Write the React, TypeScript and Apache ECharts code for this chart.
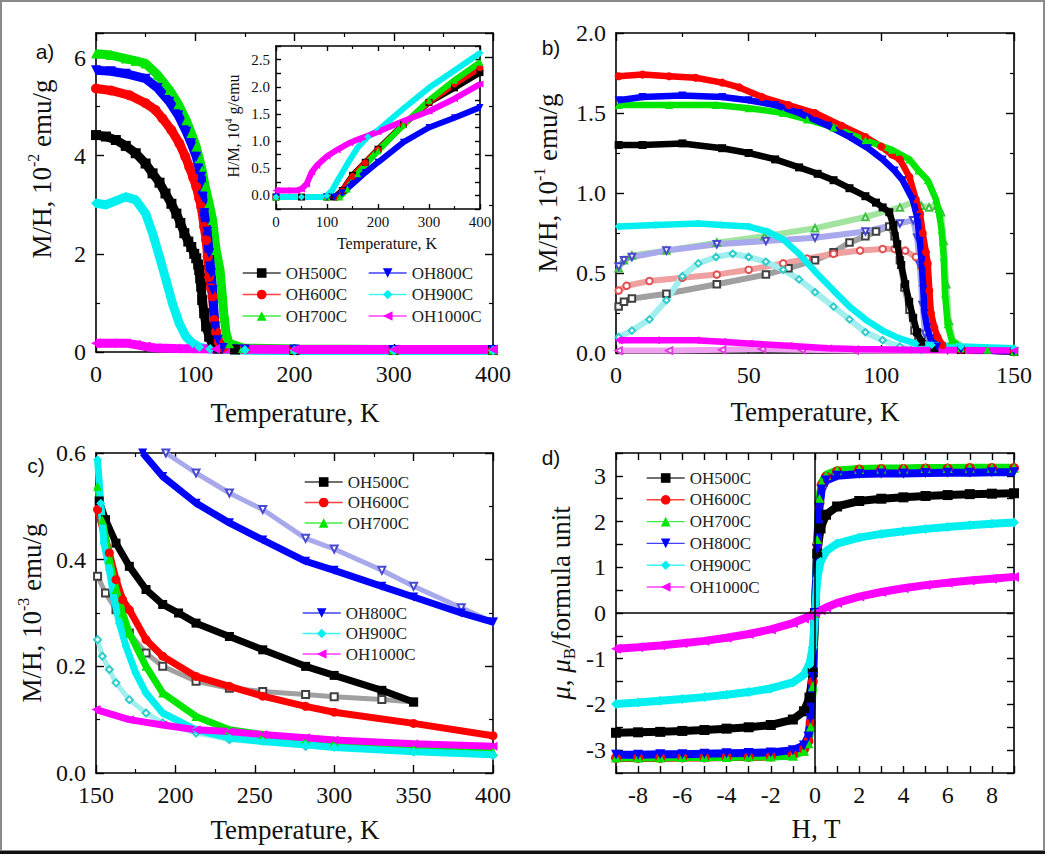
import React, { useEffect, useRef } from 'react';
import * as echarts from 'echarts';

const SERIF = "'Liberation Serif', 'Times New Roman', Times, serif";
const SANS = "'Liberation Sans', Arial, sans-serif";

const SAMPLES = ['OH500C', 'OH600C', 'OH700C', 'OH800C', 'OH900C', 'OH1000C'];
const COLORS = ['#000000', '#ff0000', '#00e600', '#0000ff', '#00f0f0', '#ff00ff'];
const OPEN_COLORS = ['#404040', '#e05050', '#40c040', '#4848d0', '#30cccc', '#e040e0'];
const OPEN_BAND = ['#a0a0a0', '#f0a0a0', '#a0e4a0', '#a8a8ec', '#a0eeee', '#f0a0f0'];
const SYMBOLS = ['rect', 'circle', 'triangle', 'triangle', 'diamond', 'triangle'];
const OPEN_SYMBOLS = ['emptyRect', 'emptyCircle', 'emptyTriangle', 'emptyTriangle', 'emptyDiamond', 'emptyTriangle'];
const ROTATE = [0, 0, 0, 180, 0, 90];

// ---- panel a: M/H (10^-2 emu/g) vs T (K)
const a500 = [[0, 4.42], [10, 4.39], [20, 4.32], [30, 4.2], [40, 4.05], [50, 3.84], [57, 3.64], [64, 3.45], [70, 3.23], [76, 3.02], [81, 2.82], [85, 2.63], [89, 2.42], [93, 2.25], [96, 2.14], [99, 2.0], [101, 1.91], [103, 1.78], [104, 1.67], [105, 1.5], [106, 1.33], [107, 1.06], [109, 0.79], [111, 0.52], [114, 0.31], [117.5, 0.14], [123, 0.07], [140, 0.05], [200, 0.04], [300, 0.04], [400, 0.04]];
const a600 = [[0, 5.37], [15, 5.33], [34, 5.23], [50, 5.07], [60, 4.93], [67, 4.76], [76, 4.52], [84, 4.25], [90, 3.98], [94, 3.77], [98, 3.55], [101, 3.37], [104, 3.13], [106, 2.96], [109, 2.55], [111, 2.28], [112.5, 1.94], [114, 1.53], [116, 1.3], [117.5, 1.13], [119, 0.65], [121, 0.41], [123.6, 0.21], [128, 0.09], [150, 0.06], [200, 0.05], [300, 0.04], [400, 0.04]];
const a700 = [[0, 6.08], [15, 6.05], [30, 5.98], [40, 5.93], [50, 5.88], [62, 5.65], [74, 5.34], [83, 5.05], [91, 4.72], [96, 4.46], [101, 4.18], [104, 3.95], [107, 3.7], [110, 3.37], [114, 3.03], [117.5, 2.69], [121, 2.08], [125, 1.67], [127, 1.2], [128.7, 0.79], [131, 0.39], [134, 0.18], [148, 0.08], [200, 0.06], [300, 0.05], [400, 0.05]];
const a800 = [[0, 5.74], [15, 5.72], [30, 5.67], [50, 5.57], [62, 5.38], [74, 5.1], [83, 4.82], [91, 4.49], [96, 4.25], [101, 3.98], [106, 3.57], [107.5, 3.16], [109, 2.83], [112, 2.45], [114, 2.01], [116, 1.6], [117.5, 1.26], [118.5, 0.92], [120, 0.52], [122.6, 0.24], [127.6, 0.08], [150, 0.05], [200, 0.05], [300, 0.04], [400, 0.04]];
const a900 = [[0, 3.03], [10, 3.0], [20, 3.08], [30, 3.16], [40, 3.1], [50, 2.82], [57, 2.42], [64, 1.94], [70.5, 1.47], [77, 0.99], [84, 0.58], [90.7, 0.31], [97.4, 0.18], [104, 0.1], [115, 0.06], [150, 0.04], [200, 0.03], [300, 0.03], [400, 0.03]];
const a1000 = [[0, 0.18], [15, 0.18], [30, 0.18], [40, 0.15], [50, 0.11], [60, 0.08], [80, 0.07], [120, 0.06], [200, 0.05], [300, 0.05], [400, 0.05]];

// ---- inset: H/M (10^4 g/emu) vs T (K)
const i500 = [[0, -0.03], [50, -0.03], [100, -0.03], [115, -0.03], [130, 0.09], [150, 0.37], [175, 0.61], [200, 0.85], [250, 1.31], [300, 1.71], [350, 1.98], [400, 2.26]];
const i600 = [[0, -0.03], [100, -0.03], [118, -0.03], [130, 0.08], [150, 0.35], [175, 0.6], [200, 0.84], [250, 1.3], [300, 1.72], [350, 2.05], [400, 2.35]];
const i700 = [[0, -0.03], [100, -0.03], [125, -0.03], [140, 0.12], [160, 0.4], [200, 0.82], [250, 1.3], [300, 1.75], [350, 2.12], [400, 2.45]];
const i800 = [[0, -0.03], [100, -0.03], [115, -0.03], [130, 0.05], [150, 0.21], [175, 0.42], [200, 0.61], [250, 0.98], [300, 1.25], [350, 1.43], [400, 1.62]];
const i900 = [[0, -0.03], [50, -0.03], [90, -0.03], [100, 0.0], [110, 0.09], [120, 0.26], [140, 0.58], [160, 0.88], [180, 1.08], [200, 1.2], [250, 1.6], [300, 1.98], [350, 2.3], [400, 2.62]];
const i1000 = [[0, 0.09], [20, 0.09], [40, 0.09], [50, 0.12], [60, 0.21], [70, 0.43], [80, 0.55], [100, 0.72], [120, 0.84], [145, 0.97], [160, 1.03], [200, 1.17], [250, 1.37], [300, 1.55], [350, 1.78], [400, 2.05]];

// ---- panel b: M/H (10^-1 emu/g) vs T (K), field-cooled (filled) and zero-field-cooled (open)
const bFC500 = [[1, 1.3], [10, 1.3], [25, 1.31], [40, 1.28], [50, 1.25], [60, 1.21], [69, 1.16], [76, 1.12], [82, 1.08], [88, 1.03], [94, 0.98], [98, 0.94], [100.5, 0.91], [103, 0.88], [104.5, 0.8], [106, 0.68], [107.5, 0.55], [109, 0.43], [110.5, 0.32], [112, 0.22], [113.5, 0.13], [115, 0.07], [120, 0.03], [130, 0.02], [150, 0.01]];
const bFC600 = [[1, 1.73], [10, 1.74], [20, 1.73], [30, 1.72], [40, 1.69], [46.5, 1.66], [55, 1.6], [65, 1.55], [75, 1.5], [85, 1.42], [94, 1.35], [100, 1.29], [104, 1.24], [107, 1.21], [110.6, 1.1], [113, 0.96], [114.6, 0.87], [115.6, 0.75], [116.8, 0.63], [117.5, 0.56], [118.1, 0.39], [118.7, 0.25], [120, 0.16], [121.2, 0.1], [123, 0.05], [130, 0.02], [150, 0.01]];
const bFC700 = [[1, 1.55], [20, 1.55], [37.7, 1.55], [50, 1.53], [63, 1.5], [72, 1.46], [82, 1.41], [94, 1.33], [104, 1.27], [110.6, 1.21], [114, 1.14], [117.5, 1.08], [120.6, 0.96], [121.5, 0.9], [122.7, 0.77], [123.5, 0.6], [124, 0.37], [125, 0.18], [126.5, 0.08], [130, 0.03], [140, 0.02], [150, 0.01]];
const bFC800 = [[1, 1.58], [10, 1.6], [25, 1.61], [40, 1.6], [50, 1.58], [60, 1.55], [69, 1.5], [80, 1.42], [88, 1.35], [95, 1.28], [100.5, 1.21], [105, 1.14], [108, 1.08], [111.8, 0.96], [113.5, 0.85], [114.5, 0.7], [115.2, 0.58], [115.8, 0.4], [116.3, 0.25], [117.3, 0.16], [118.5, 0.09], [121, 0.04], [130, 0.02], [150, 0.01]];
const bFC900 = [[1, 0.79], [15, 0.8], [31, 0.81], [40, 0.8], [50, 0.79], [57, 0.76], [63, 0.71], [69, 0.62], [75, 0.51], [82, 0.39], [88, 0.29], [94, 0.21], [100.5, 0.14], [107, 0.09], [113, 0.06], [119, 0.05], [130, 0.04], [150, 0.03]];
const bFC1000 = [[1, 0.08], [15, 0.08], [30, 0.08], [40, 0.07], [50, 0.06], [65, 0.045], [80, 0.03], [90, 0.025], [110, 0.02], [150, 0.015]];
const bZFC500 = [[1, 0.29], [3, 0.32], [6, 0.34], [19, 0.37], [38, 0.43], [56.5, 0.49], [65, 0.53], [75, 0.58], [82, 0.63], [88, 0.69], [94, 0.73], [98, 0.76], [103, 0.79], [105, 0.73], [107, 0.58], [108.7, 0.41], [110.6, 0.27], [112.5, 0.14], [114, 0.08], [118, 0.04], [130, 0.02], [150, 0.01]];
const bZFC600 = [[1, 0.39], [4, 0.42], [12.6, 0.45], [25, 0.47], [38, 0.49], [50, 0.52], [63, 0.56], [72, 0.59], [82, 0.62], [92, 0.64], [100.5, 0.65], [105, 0.65], [109, 0.64], [113, 0.6], [115, 0.54], [116.5, 0.41], [117.5, 0.27], [119, 0.12], [121, 0.06], [125, 0.03], [150, 0.01]];
const bZFC700 = [[1, 0.53], [3, 0.58], [6, 0.61], [19, 0.64], [38, 0.69], [56, 0.73], [75, 0.78], [94, 0.85], [107, 0.91], [113, 0.95], [115, 0.92], [118, 0.91], [121, 0.92], [122.5, 0.88], [123.5, 0.7], [124.5, 0.43], [125.5, 0.2], [127, 0.08], [132, 0.03], [150, 0.01]];
const bZFC800 = [[1, 0.54], [3, 0.58], [6, 0.6], [19, 0.64], [38, 0.68], [56.5, 0.7], [75, 0.72], [94, 0.76], [107, 0.81], [112, 0.83], [113.5, 0.72], [114.5, 0.55], [115.5, 0.3], [116.5, 0.12], [118, 0.05], [125, 0.02], [150, 0.01]];
const bZFC900 = [[1, 0.1], [6, 0.14], [12.6, 0.21], [19, 0.33], [25, 0.48], [31, 0.56], [37.7, 0.6], [44, 0.62], [50, 0.6], [56.5, 0.57], [63, 0.52], [69, 0.46], [75, 0.38], [82, 0.29], [88, 0.21], [94, 0.13], [100.5, 0.08], [107, 0.04], [115, 0.02], [150, 0.01]];
const bZFC1000 = [[1, 0.015], [20, 0.015], [40, 0.02], [55, 0.025], [70, 0.02], [90, 0.015], [150, 0.01]];

// ---- panel c: M/H (10^-3 emu/g) vs T (K)
const c500 = [[152, 0.51], [156, 0.475], [162.6, 0.431], [171, 0.3875], [181.5, 0.344], [192, 0.316], [202, 0.3], [213, 0.281], [234, 0.256], [255, 0.231], [282, 0.2], [300, 0.183], [330, 0.155], [350, 0.133]];
const c600 = [[151, 0.494], [158.4, 0.4125], [162.6, 0.3625], [166.8, 0.325], [171, 0.306], [181.5, 0.25], [192, 0.219], [213, 0.181], [234, 0.1625], [255, 0.144], [282, 0.125], [300, 0.114], [350, 0.093], [400, 0.07]];
const c700 = [[151, 0.5375], [154, 0.475], [158.4, 0.4], [162.6, 0.344], [166.8, 0.3], [171, 0.2625], [181.5, 0.2], [192, 0.15], [213, 0.106], [234, 0.081], [255, 0.072], [282, 0.0625], [300, 0.057], [350, 0.046], [400, 0.04]];
const c800 = [[179.4, 0.6], [192, 0.556], [213, 0.506], [234, 0.469], [255, 0.437], [282, 0.397], [300, 0.38], [330, 0.35], [350, 0.33], [380, 0.3], [400, 0.283]];
const c900 = [[151, 0.5875], [153, 0.506], [155, 0.431], [158.4, 0.381], [161.5, 0.325], [164.7, 0.281], [168.9, 0.2375], [175, 0.1875], [181.5, 0.15], [192, 0.1125], [213, 0.081], [234, 0.066], [255, 0.059], [282, 0.053], [300, 0.048], [350, 0.04], [400, 0.034]];
const c1000 = [[150, 0.119], [171, 0.1], [192, 0.09], [213, 0.081], [234, 0.078], [255, 0.072], [282, 0.066], [300, 0.062], [350, 0.055], [400, 0.05]];
const c500open = [[151, 0.369], [156, 0.3375], [162.6, 0.306], [171, 0.2625], [181.5, 0.225], [192, 0.2], [213, 0.172], [234, 0.159], [255, 0.153], [282, 0.147], [300, 0.143], [330, 0.138], [350, 0.133]];
const c800open = [[194, 0.6], [213, 0.5625], [234, 0.525], [255, 0.494], [282, 0.44], [300, 0.42], [330, 0.38], [350, 0.35], [380, 0.31], [400, 0.283]];
const c900open = [[151, 0.25], [154, 0.219], [158.4, 0.194], [162.6, 0.169], [171, 0.1375], [181.5, 0.1125], [192, 0.094], [213, 0.075], [234, 0.0625], [282, 0.05], [350, 0.04], [400, 0.033]];

// ---- panel d: moment (mu_B / formula unit) vs H (T)
const d500 = [[-9, -2.62], [-8, -2.61], [-7, -2.6], [-6, -2.58], [-5, -2.56], [-4, -2.53], [-3, -2.5], [-2, -2.45], [-1, -2.33], [-0.5, -2.15], [-0.25, -1.85], [-0.1, -1.3], [0, 0], [0.1, 1.3], [0.25, 1.85], [0.5, 2.15], [1, 2.33], [2, 2.45], [3, 2.5], [4, 2.53], [5, 2.56], [6, 2.58], [7, 2.6], [8, 2.61], [9, 2.62]];
const d600 = [[-9, -3.17], [-8, -3.17], [-7, -3.17], [-6, -3.16], [-5, -3.16], [-4, -3.15], [-3, -3.15], [-2, -3.14], [-1, -3.1], [-0.5, -2.98], [-0.3, -2.8], [-0.2, -2.4], [-0.1, -1.5], [0, 0], [0.1, 1.5], [0.2, 2.4], [0.3, 2.8], [0.5, 2.98], [1, 3.1], [2, 3.14], [3, 3.15], [4, 3.15], [5, 3.16], [6, 3.16], [7, 3.17], [8, 3.17], [9, 3.17]];
const d700 = [[-9, -3.16], [-8, -3.16], [-7, -3.16], [-6, -3.15], [-5, -3.15], [-4, -3.15], [-3, -3.14], [-2, -3.14], [-1, -3.12], [-0.5, -3.02], [-0.3, -2.85], [-0.2, -2.5], [-0.1, -1.6], [0, 0], [0.1, 1.6], [0.2, 2.5], [0.3, 2.85], [0.5, 3.02], [1, 3.12], [2, 3.15], [3, 3.16], [4, 3.16], [5, 3.17], [6, 3.17], [7, 3.18], [8, 3.18], [9, 3.18]];
const d800 = [[-9, -3.1], [-8, -3.1], [-7, -3.09], [-6, -3.09], [-5, -3.08], [-4, -3.07], [-3, -3.06], [-2, -3.05], [-1, -3.0], [-0.5, -2.9], [-0.3, -2.7], [-0.2, -2.3], [-0.1, -1.4], [0, 0], [0.1, 1.4], [0.2, 2.3], [0.3, 2.7], [0.5, 2.9], [1, 3.0], [2, 3.04], [3, 3.05], [4, 3.05], [5, 3.06], [6, 3.07], [7, 3.07], [8, 3.08], [9, 3.08]];
const d900 = [[-9, -1.99], [-8, -1.96], [-7, -1.92], [-6, -1.88], [-5, -1.84], [-4, -1.79], [-3, -1.73], [-2, -1.65], [-1, -1.52], [-0.5, -1.35], [-0.25, -1.12], [-0.1, -0.75], [0, 0], [0.1, 0.75], [0.25, 1.12], [0.5, 1.35], [1, 1.52], [2, 1.65], [3, 1.73], [4, 1.79], [5, 1.84], [6, 1.88], [7, 1.92], [8, 1.95], [9, 1.98]];
const d1000 = [[-9, -0.78], [-8, -0.75], [-7, -0.71], [-6, -0.66], [-5, -0.61], [-4, -0.54], [-3, -0.46], [-2, -0.36], [-1, -0.22], [-0.5, -0.12], [-0.25, -0.06], [0, 0], [0.25, 0.06], [0.5, 0.12], [1, 0.22], [2, 0.36], [3, 0.46], [4, 0.54], [5, 0.61], [6, 0.66], [7, 0.71], [8, 0.75], [9, 0.79]];

// axis ranges
const A_X = { min: 0, max: 400, interval: 100 };
const A_Y = { min: 0, max: 6.5, interval: 2 };
const IN_X = { min: 0, max: 400, interval: 100 };
const IN_Y = { min: -0.25, max: 2.75, interval: 0.25 };
const B_X = { min: 0, max: 150, interval: 50 };
const B_Y = { min: 0, max: 2, interval: 0.5 };
const C_X = { min: 150, max: 400, interval: 50 };
const C_Y = { min: 0, max: 0.6, interval: 0.2 };
const D_X = { min: -9, max: 9, interval: 1 };
const D_Y = { min: -3.5, max: 3.5, interval: 0.5 };

type Rng = { min: number; max: number; interval: number };
type AxOpt = { minor: boolean; fontSize: number; margin: number; tick: number; fmt?: (v: number) => string; hideMax?: boolean };

function axisPair(dim: 'x' | 'y', grid: number, r: Rng, o: AxOpt) {
  const make = (pos: string, label: boolean) => {
    const axisLabel: any = { show: label, fontFamily: SERIF, fontSize: o.fontSize, color: '#111', margin: o.margin };
    if (o.fmt) axisLabel.formatter = o.fmt;
    if (o.hideMax) axisLabel.showMaxLabel = false;
    return {
      type: 'value', gridIndex: grid, position: pos, min: r.min, max: r.max, interval: r.interval,
      axisLine: { show: true, onZero: false, lineStyle: { color: '#000', width: 1.6 } },
      axisTick: { show: true, inside: true, length: o.tick, lineStyle: { color: '#000', width: 1.4 } },
      minorTick: { show: o.minor, splitNumber: 2, length: Math.round(o.tick * 0.55), lineStyle: { color: '#000', width: 1.2 } },
      splitLine: { show: false }, minorSplitLine: { show: false },
      axisLabel,
    };
  };
  return dim === 'x' ? [make('bottom', true), make('top', false)] : [make('left', true), make('right', false)];
}

const fix1 = (v: number) => v.toFixed(1);
const halfOnly = (v: number) => (Math.abs(v * 2 - Math.round(v * 2)) < 1e-6 && v > -0.01 ? (Math.round(v * 2) / 2).toFixed(1) : '');
const evenOnly = (v: number) => (Math.round(v) % 2 === 0 ? String(Math.round(v)) : '');
const intOnly = (v: number) => (Math.abs(v - Math.round(v)) < 1e-6 ? String(Math.round(v)) : '');

function filled(i: number, data: number[][], g: number, size: number, width: number) {
  return {
    type: 'line', name: SAMPLES[i], data, xAxisIndex: 2 * g, yAxisIndex: 2 * g,
    symbol: SYMBOLS[i], symbolRotate: ROTATE[i], symbolSize: size, showAllSymbol: true,
    itemStyle: { color: COLORS[i] }, lineStyle: { color: COLORS[i], width },
    silent: true, z: 3,
  };
}
function open(i: number, data: number[][], g: number, size: number, width: number) {
  return {
    type: 'line', name: SAMPLES[i] + ' ZFC', data, xAxisIndex: 2 * g, yAxisIndex: 2 * g,
    symbol: OPEN_SYMBOLS[i], symbolRotate: ROTATE[i], symbolSize: size, showAllSymbol: true,
    itemStyle: { color: OPEN_COLORS[i], borderWidth: 1.2 }, lineStyle: { color: OPEN_BAND[i], width },
    silent: true, z: 2,
  };
}

const LEGEND_RICH = { t: { fontFamily: SERIF, fontSize: 17, color: '#222', fill: '#222', lineHeight: 18 } };
function legend(names: string[], left: number, top: number, gap: number) {
  return {
    show: true, orient: 'vertical', left, top, padding: 0, itemGap: gap, itemWidth: 38, itemHeight: 12,
    selectedMode: false,
    data: names,
    formatter: '{t|{name}}',
    lineStyle: { width: 1.4, opacity: 0.75 },
    textStyle: { fontFamily: SERIF, fontSize: 17, color: '#222', lineHeight: 18, rich: LEGEND_RICH },
  };
}

function txt(text: string, x: number, y: number, size: number, rot = 0, family = SERIF) {
  return {
    type: 'text', x, y, rotation: rot, z: 100,
    style: { text, fontSize: size, fontFamily: family, fill: '#111', align: 'center', verticalAlign: 'middle' },
  };
}
function richTxt(text: string, x: number, y: number, size: number, small: number, rot: number) {
  return {
    type: 'text', x, y, rotation: rot, z: 100,
    style: {
      text, align: 'center', verticalAlign: 'middle', fill: '#111',
      rich: {
        m: { fontSize: size, fontFamily: SERIF, lineHeight: Math.round(size * 1.26), fill: '#111', verticalAlign: 'middle' },
        i: { fontSize: size, fontFamily: SERIF, fontStyle: 'italic', lineHeight: Math.round(size * 1.26), fill: '#111', verticalAlign: 'middle' },
        s: { fontSize: small, fontFamily: SERIF, fill: '#111', verticalAlign: 'top' },
        b: { fontSize: small, fontFamily: SERIF, fill: '#111', verticalAlign: 'bottom' },
      },
    },
  };
}

function buildOption() {
  const main = { minor: true, fontSize: 24, margin: 10, tick: 8 };
  const xAxis = [
    ...axisPair('x', 0, A_X, main),
    ...axisPair('x', 1, IN_X, { minor: true, fontSize: 15, margin: 5, tick: 5 }),
    ...axisPair('x', 2, B_X, main),
    ...axisPair('x', 3, C_X, main),
    ...axisPair('x', 4, D_X, { minor: false, fontSize: 24, margin: 10, tick: 7, fmt: evenOnly }),
  ];
  const yAxis = [
    ...axisPair('y', 0, A_Y, { ...main, hideMax: true }),
    ...axisPair('y', 1, IN_Y, { minor: false, fontSize: 15, margin: 6, tick: 5, fmt: halfOnly }),
    ...axisPair('y', 2, B_Y, { ...main, fmt: fix1 }),
    ...axisPair('y', 3, C_Y, { ...main, fmt: fix1 }),
    ...axisPair('y', 4, D_Y, { minor: false, fontSize: 24, margin: 10, tick: 7, fmt: intOnly }),
  ];

  const aData = [a500, a600, a700, a800, a900, a1000];
  const iData = [i500, i600, i700, i800, i900, i1000];
  const bFC = [bFC500, bFC600, bFC700, bFC800, bFC900, bFC1000];
  const bZFC = [bZFC500, bZFC600, bZFC700, bZFC800, bZFC900, bZFC1000];
  const cData = [c500, c600, c700, c800, c900, c1000];
  const dData = [d500, d600, d700, d800, d900, d1000];

  const series: any[] = [];
  aData.forEach((d, i) => series.push(filled(i, d, 0, 10, 9)));
  iData.forEach((d, i) => series.push(filled(i, d, 1, 7, 6)));
  bZFC.forEach((d, i) => series.push(open(i, d, 2, 6.5, 6)));
  bFC.forEach((d, i) => series.push(filled(i, d, 2, 8, 6.5)));
  series.push(open(0, c500open, 3, 7, 5));
  series.push(open(3, c800open, 3, 7, 5));
  series.push(open(4, c900open, 3, 7, 5));
  cData.forEach((d, i) => series.push(filled(i, d, 3, 9, 7)));
  series.push({
    type: 'line', name: 'zero', data: [[0, 0]], xAxisIndex: 8, yAxisIndex: 8, symbol: 'none',
    lineStyle: { width: 0 }, silent: true, z: 1,
    markLine: {
      silent: true, symbol: ['none', 'none'], label: { show: false },
      lineStyle: { color: '#000', width: 1.5, type: 'solid' },
      data: [{ xAxis: 0 }, { yAxis: 0 }],
    },
  });
  dData.forEach((d, i) => series.push(filled(i, d, 4, 10, 8)));

  const graphic = [
    { type: 'rect', z: 0, shape: { x: 1, y: 1, width: 1043, height: 850 }, style: { fill: 'none', stroke: '#8a8a8a', lineWidth: 2 } },
    { type: 'line', z: 0, shape: { x1: 0, y1: 852.5, x2: 1045, y2: 852.5 }, style: { stroke: '#111', lineWidth: 3 } },
    txt('a)', 45, 51, 21, 0, SANS),
    txt('b)', 551, 47, 21, 0, SANS),
    txt('c)', 36, 465, 21, 0, SANS),
    txt('d)', 551, 457, 21, 0, SANS),
    txt('Temperature, K', 295, 413, 27),
    txt('Temperature, K', 815, 412, 27),
    txt('Temperature, K', 295, 830, 27),
    txt('H, T', 816, 829, 27),
    txt('Temperature, K', 387, 243, 16),
    richTxt('{m|M/H, 10}{s|-2}{m| emu/g}', 42, 169, 27, 16, Math.PI / 2),
    richTxt('{m|M/H, 10}{s|-1}{m| emu/g}', 548, 183, 27, 16, Math.PI / 2),
    richTxt('{m|M/H, 10}{s|-3}{m| emu/g}', 32, 613, 27, 16, Math.PI / 2),
    richTxt('{i|μ}{m|, }{i|μ}{b|B}{m|/formula unit}', 561, 603, 27, 17, Math.PI / 2),
    richTxt('{m|H/M, 10}{s|4}{m| g/emu}', 233, 126, 16, 10, Math.PI / 2),
  ];

  return {
    animation: false,
    backgroundColor: '#ffffff',
    textStyle: { fontFamily: SERIF },
    grid: [
      { left: 96, top: 33, width: 397, height: 319, show: false },
      { left: 276, top: 46, width: 204, height: 163, show: true, backgroundColor: '#ffffff', borderWidth: 0 },
      { left: 616, top: 33, width: 398, height: 320, show: false },
      { left: 96, top: 453, width: 397, height: 320, show: false },
      { left: 616, top: 453, width: 398, height: 320, show: false },
    ],
    xAxis, yAxis, series,
    legend: [
      legend(SAMPLES.slice(0, 3), 242, 264, 3.5),
      legend(SAMPLES.slice(3), 368, 264, 3.5),
      legend(SAMPLES.slice(0, 3), 304, 473, 2.5),
      legend(SAMPLES.slice(3), 302, 604, 2.5),
      legend(SAMPLES, 646, 469, 3.8),
    ],
    graphic,
  };
}

export default function App() {
  const ref = useRef<HTMLDivElement>(null);
  useEffect(() => {
    document.body.style.margin = '0';
    const chart = echarts.init(ref.current as HTMLDivElement, null, { renderer: 'svg' });
    chart.setOption(buildOption() as any);
    return () => chart.dispose();
  }, []);
  return <div ref={ref} style={{ width: 1050, height: 857, background: '#fff', position: 'absolute', left: 0, top: 0 }} />;
}
